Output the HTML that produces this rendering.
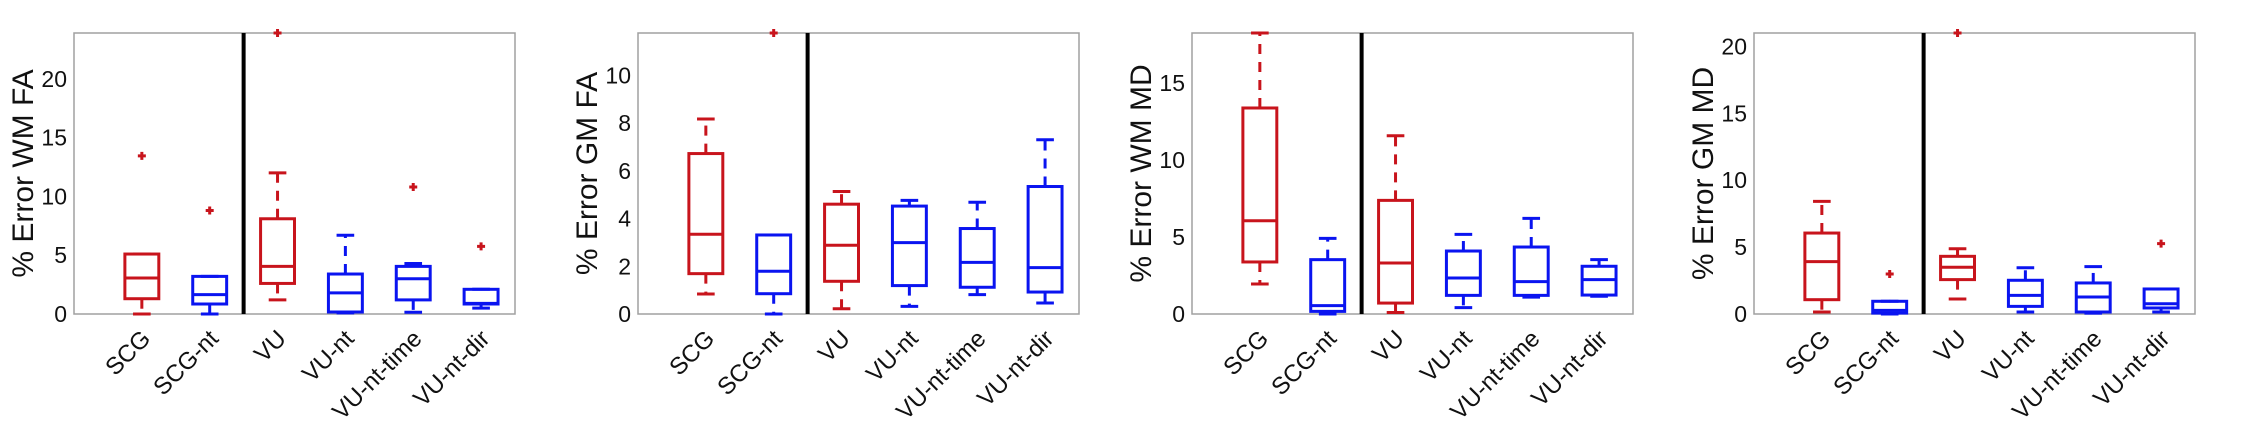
<!DOCTYPE html>
<html><head><meta charset="utf-8"><style>
html,body{margin:0;padding:0;background:#fff;overflow:hidden;}
svg{display:block;font-family:"Liberation Sans",Arial,sans-serif;}
</style></head><body>
<svg id="fig" width="2245" height="425" viewBox="0 0 2245 425" xmlns="http://www.w3.org/2000/svg"></svg>
<script>
const categories = ["SCG","SCG-nt","VU","VU-nt","VU-nt-time","VU-nt-dir"];
const colors = ["#c8141c","#0a14f0","#c8141c","#0a14f0","#0a14f0","#0a14f0"];
const panelTitles = ["% Error WM FA","% Error GM FA","% Error WM MD","% Error GM MD"];
const panelYMax = [23.9, 11.77, 18.25, 21.0];
const panelTicks = [[0,5,10,15,20],[0,2,4,6,8,10],[0,5,10,15],[0,5,10,15,20]];
// each box: [lowerWhisker, q1, median, q3, upperWhisker]
const statsWMFA = [[0,1.3,3.06,5.1,5.1],[0,0.85,1.65,3.2,3.2],[1.2,2.6,4.05,8.1,12.0],[0.1,0.17,1.8,3.4,6.7],[0.15,1.2,3.0,4.05,4.3],[0.5,0.85,0.9,2.1,2.1]];
const statsGMFA = [[0.84,1.69,3.34,6.72,8.17],[0,0.85,1.79,3.31,3.31],[0.22,1.37,2.88,4.6,5.13],[0.32,1.19,2.99,4.52,4.76],[0.81,1.12,2.16,3.58,4.68],[0.46,0.92,1.94,5.34,7.3]];
const statsWMMD = [[1.95,3.38,6.06,13.38,18.25],[0,0.17,0.54,3.53,4.91],[0.1,0.71,3.31,7.38,11.58],[0.41,1.21,2.34,4.09,5.17],[1.1,1.21,2.1,4.35,6.21],[1.15,1.23,2.23,3.1,3.53]];
const statsGMMD = [[0.15,1.07,3.91,6.05,8.42],[0,0.07,0.27,0.95,0.95],[1.12,2.57,3.49,4.31,4.88],[0.15,0.57,1.39,2.52,3.46],[0.07,0.15,1.27,2.32,3.54],[0.15,0.45,0.77,1.87,1.87]];
const outliersWMFA = [[1,13.45],[2,8.8],[3,23.9],[5,10.8],[6,5.75]];
const outliersGMFA = [[2,11.77]];
const outliersWMMD = [];
const outliersGMMD = [[2,2.99],[3,21.0],[6,5.26]];

const panelStats = [statsWMFA,statsGMFA,statsWMMD,statsGMMD];
const panelOutliers = [outliersWMFA,outliersGMFA,outliersWMMD,outliersGMMD];
const panelLeft = [74,638,1192,1754];
const PW = 441, TOP = 33, BOT = 314;
const NS = "http://www.w3.org/2000/svg";
const svg = document.getElementById('fig');
function mk(tag, attrs, parent){const e=document.createElementNS(NS,tag);for(const k in attrs)e.setAttribute(k,attrs[k]);(parent||svg).appendChild(e);return e;}

panelTitles.forEach((title,p)=>{
  const L = panelLeft[p];
  const g = mk('g',{});
  
  
  const xs = v => L + v*(PW/6.5);
  const ys = v => BOT - v*(BOT-TOP)/panelYMax[p];
  const frame = mk('rect',{x:L,y:TOP,width:PW,height:BOT-TOP,fill:'none',stroke:'#a0a0a0','stroke-width':1.5},g);
  
  
  panelTicks[p].forEach(t=>{
    const tx = mk('text',{x:L-7,y:ys(t)+8,'text-anchor':'end','font-size':23,fill:'#111'},g);
    tx.textContent = t;
    
    
  });
  const yl = mk('text',{x:0,y:0,'text-anchor':'middle','font-size':30,fill:'#111',transform:`translate(${L-41},${(TOP+BOT)/2}) rotate(-90)`},g);
  yl.textContent = title;
  
  
  const dv = mk('line',{x1:xs(2.5),x2:xs(2.5),y1:TOP,y2:BOT,stroke:'#000','stroke-width':4},g);
  
  
  panelStats[p].forEach((s,i)=>{
    const c = colors[i], x = xs(i+1), hw = (PW/6.5)*0.25, cw = (PW/6.5)*0.13;
    const bg = mk('g',{stroke:c,'stroke-width':3,fill:'none'},g);
    
    
    mk('line',{x1:x,x2:x,y1:ys(s[3]),y2:ys(s[4]),'stroke-dasharray':'10,8'},bg);
    mk('line',{x1:x,x2:x,y1:ys(s[1]),y2:ys(s[0]),'stroke-dasharray':'10,8'},bg);
    mk('line',{x1:x-cw,x2:x+cw,y1:ys(s[4]),y2:ys(s[4])},bg);
    mk('line',{x1:x-cw,x2:x+cw,y1:ys(s[0]),y2:ys(s[0])},bg);
    mk('rect',{x:x-hw,y:ys(s[3]),width:2*hw,height:ys(s[1])-ys(s[3])},bg);
    mk('line',{x1:x-hw,x2:x+hw,y1:ys(s[2]),y2:ys(s[2])},bg);
    const lab = mk('text',{x:0,y:0,'text-anchor':'end','font-size':24,fill:'#111',transform:`translate(${x+10},${BOT+26}) rotate(-45)`},g);
    lab.textContent = categories[i];
    
    
  });
  panelOutliers[p].forEach(o=>{
    const x = xs(o[0]), y = ys(o[1]);
    const pt = mk('path',{d:`M${x-4},${y}H${x+4}M${x},${y-4}V${y+4}`,stroke:'#c8141c','stroke-width':3,fill:'none'},g);
    
    
  });
});
</script>
</body></html>
